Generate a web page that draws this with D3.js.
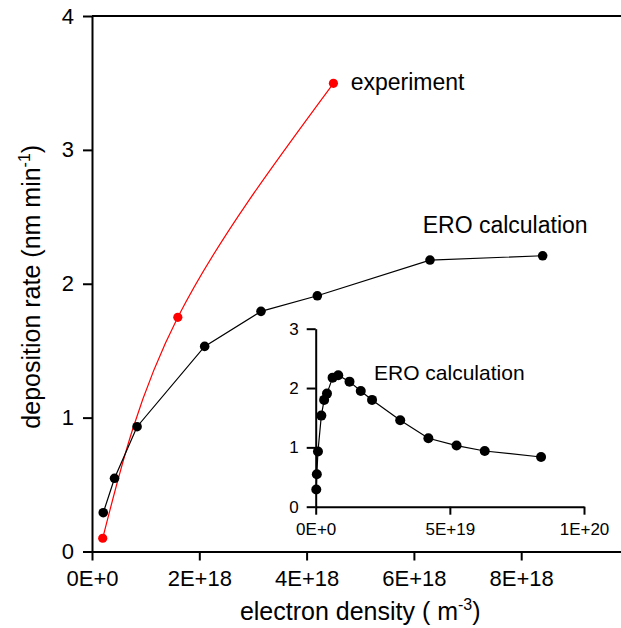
<!DOCTYPE html>
<html>
<head>
<meta charset="utf-8">
<script src="https://cdn.jsdelivr.net/npm/d3@7"></script>
<style>
  body { margin: 0; background: #fff; }
  svg { display: block; }
  text { font-family: "Liberation Sans", Arial, sans-serif; fill: #000; }
</style>
</head>
<body>
<svg id="chart" width="621" height="628"></svg>
<script>
// ---- data ----
const eroDensity = [0.21e18, 0.42e18, 0.84e18, 2.1e18, 3.15e18, 4.2e18, 6.3e18, 8.4e18];
const eroRate    = [0.29, 0.547, 0.932, 1.532, 1.794, 1.910, 2.177, 2.209];

const expDensity = [0.2e18, 1.6e18, 4.5e18];
const expRate    = [0.099, 1.749, 3.497];

const insetDensity = [0.21e18, 0.42e18, 0.84e18, 2.1e18, 3.15e18, 4.2e18, 6.3e18, 8.4e18,
                      12.6e18, 16.8e18, 21e18, 31.5e18, 42e18, 52.5e18, 63e18, 84e18];
const insetRate    = [0.29, 0.547, 0.93, 1.535, 1.80, 1.906, 2.175, 2.216,
                      2.108, 1.951, 1.80, 1.457, 1.153, 1.03, 0.939, 0.838];

const mainXTicks = [0, 2e18, 4e18, 6e18, 8e18];
const mainXTickLabels = ["0E+0", "2E+18", "4E+18", "6E+18", "8E+18"];
const mainYTicks = [0, 1, 2, 3, 4];
const insetXTicks = [0, 5e19, 1e20];
const insetXTickLabels = ["0E+0", "5E+19", "1E+20"];
const insetYTicks = [0, 1, 2, 3];

// ---- layout ----
const svg = d3.select("#chart");

const x = d3.scaleLinear().domain([0, 1e19]).range([92, 628.5]);
const y = d3.scaleLinear().domain([0, 4]).range([551.5, 16]);

const xi = d3.scaleLinear().domain([0, 1e20]).range([315.7, 584]);
const yi = d3.scaleLinear().domain([0, 3]).range([506.7, 328.7]);

function styleAxis(g, fontSize) {
  g.select(".domain").attr("stroke", "#000").attr("stroke-width", 2);
  g.selectAll(".tick line").attr("stroke", "#000").attr("stroke-width", 2);
  g.selectAll(".tick text").attr("font-size", fontSize)
    .attr("font-family", "Liberation Sans, Arial, sans-serif").attr("fill", "#000");
}

// main axes
const xAxis = svg.append("g").attr("transform", `translate(0,${y(0)})`)
  .call(d3.axisBottom(x).tickValues(mainXTicks)
    .tickFormat((d, i) => mainXTickLabels[i]).tickSize(9).tickSizeOuter(0).tickPadding(10));
styleAxis(xAxis, 22);

const yAxis = svg.append("g").attr("transform", `translate(${x(0)},0)`)
  .call(d3.axisLeft(y).tickValues(mainYTicks).tickFormat(d3.format("d"))
    .tickSize(9).tickSizeOuter(0).tickPadding(9));
styleAxis(yAxis, 22);

// top frame line
svg.append("line")
  .attr("x1", x(0)).attr("x2", x(1e19))
  .attr("y1", y(4)).attr("y2", y(4))
  .attr("stroke", "#000").attr("stroke-width", 2);

// axis titles
svg.append("text")
  .attr("x", (x(0) + x(1e19)) / 2).attr("y", 620)
  .attr("text-anchor", "middle").attr("font-size", 25)
  .html('electron density ( m<tspan dy="-10" font-size="16">-3</tspan><tspan dy="10">)</tspan>');

svg.append("text")
  .attr("transform", `translate(40,${(y(0) + y(4)) / 2 + 3}) rotate(-90)`)
  .attr("text-anchor", "middle").attr("font-size", 25)
  .html('deposition rate (nm min<tspan dy="-10" font-size="16">-1</tspan><tspan dy="10">)</tspan>');

// red experiment curve
const redLine = d3.line().x((d, i) => x(expDensity[i])).y((d, i) => y(expRate[i]))
  .curve(d3.curveNatural);
svg.append("path").datum(expRate).attr("d", redLine)
  .attr("fill", "none").attr("stroke", "#ff0000").attr("stroke-width", 1.2);

// black ERO line
const blackLine = d3.line().x((d, i) => x(eroDensity[i])).y((d, i) => y(eroRate[i]));
svg.append("path").datum(eroRate).attr("d", blackLine)
  .attr("fill", "none").attr("stroke", "#000").attr("stroke-width", 1.2);

svg.append("g").selectAll("circle").data(eroRate).join("circle")
  .attr("cx", (d, i) => x(eroDensity[i])).attr("cy", d => y(d))
  .attr("r", 4.8).attr("fill", "#000");

svg.append("g").selectAll("circle").data(expRate).join("circle")
  .attr("cx", (d, i) => x(expDensity[i])).attr("cy", d => y(d))
  .attr("r", 4.6).attr("fill", "#ff0000");

svg.append("text").attr("x", 350.7).attr("y", 90).attr("font-size", 23).text("experiment");
svg.append("text").attr("x", 422.7).attr("y", 233).attr("font-size", 23).text("ERO calculation");

// ---- inset ----
const xiAxis = svg.append("g").attr("transform", `translate(0,${yi(0)})`)
  .call(d3.axisBottom(xi).tickValues(insetXTicks)
    .tickFormat((d, i) => insetXTickLabels[i]).tickSize(8).tickSizeOuter(0).tickPadding(8));
styleAxis(xiAxis, 17);

const yiAxis = svg.append("g").attr("transform", `translate(${xi(0)},0)`)
  .call(d3.axisLeft(yi).tickValues(insetYTicks).tickFormat(d3.format("d"))
    .tickSize(9).tickSizeOuter(0).tickPadding(8));
styleAxis(yiAxis, 17);

const insetLine = d3.line().x((d, i) => xi(insetDensity[i])).y((d, i) => yi(insetRate[i]));
svg.append("path").datum(insetRate).attr("d", insetLine)
  .attr("fill", "none").attr("stroke", "#000").attr("stroke-width", 1.2);

svg.append("g").selectAll("circle").data(insetRate).join("circle")
  .attr("cx", (d, i) => xi(insetDensity[i])).attr("cy", d => yi(d))
  .attr("r", 5).attr("fill", "#000");

svg.append("text").attr("x", 374).attr("y", 380).attr("font-size", 21).text("ERO calculation");
</script>
</body>
</html>
